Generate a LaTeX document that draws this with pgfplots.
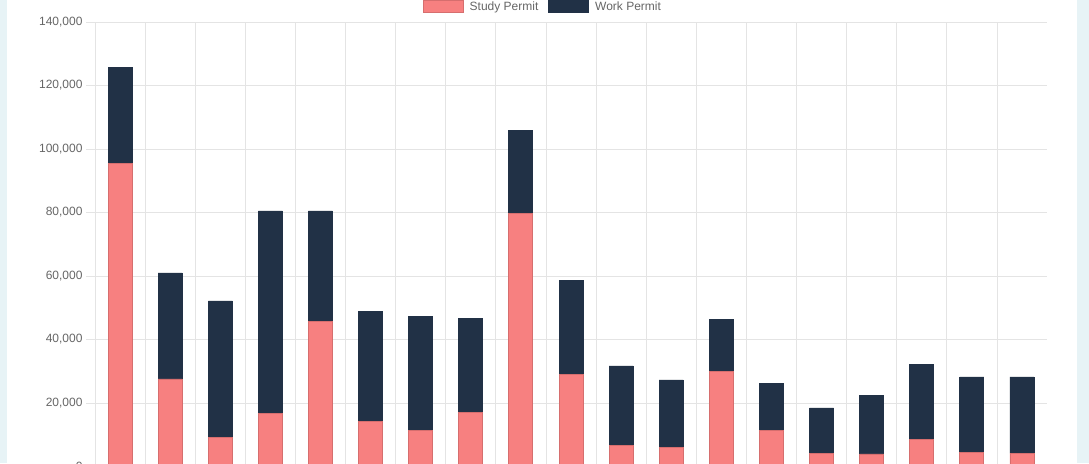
\documentclass[border=0pt]{standalone}
\usepackage{pgfplots}
\pgfplotsset{compat=1.18}
\usepackage{fontspec}
\setmainfont{Liberation Sans}
\definecolor{studyfill}{RGB}{247,128,128}
\definecolor{studyedge}{RGB}{214,110,110}
\definecolor{workfill}{RGB}{33,49,70}
\definecolor{workedge}{RGB}{33,49,70}
\definecolor{gridc}{RGB}{228,228,228}
\definecolor{txt}{RGB}{102,102,102}
\definecolor{side}{RGB}{231,243,246}
\begin{document}
\begin{tikzpicture}
\useasboundingbox (-95pt,3.5pt) rectangle (994pt,466.5pt);
\clip (-95pt,3.5pt) rectangle (994pt,466.5pt);
\fill[white] (-95pt,3.5pt) rectangle (994pt,466.5pt);
\fill[side] (-95pt,3.5pt) rectangle (-88pt,466.5pt);
\fill[side] (982pt,3.5pt) rectangle (994pt,466.5pt);
\begin{axis}[
  at={(0pt,0pt)}, anchor=south west,
  scale only axis,
  width=952pt, height=444.5pt,
  ybar stacked, bar width=24pt,
  xmin=-0.5, xmax=18.5,
  ymin=0, ymax=140000,
  ytick={0,20000,...,140000},
  xtick={-0.5,0.5,...,17.5},
  xticklabels={},
  xtick pos=bottom, ytick pos=left,
  xmajorgrids, ymajorgrids,
  grid style={gridc, line width=0.8pt},
  axis line style={draw=none},
  tick align=outside,
  major tick length=9pt,
  tick style={gridc, line width=0.8pt},
  scaled y ticks=false,
  /pgf/number format/assume math mode=true,
  yticklabel={\pgfmathprintnumber[fixed,precision=0,1000 sep={,}]{\tick}},
  yticklabel style={font=\fontsize{12}{14}\selectfont, text=txt},
  legend style={draw=none, fill=none, at={(0.4705,1)}, anchor=center, yshift=15.5pt,
    font=\fontsize{12}{14}\selectfont, text=txt,
    legend columns=2,
    /tikz/every odd column/.append style={column sep=4pt},
    /tikz/every even column/.append style={column sep=8pt}},
  legend image code/.code={\draw[#1] (0pt,-6pt) rectangle (40pt,6pt);},
]
\addplot[fill=studyfill, draw=studyedge, line width=0.8pt] coordinates {
(0,95500) (1,27560) (2,9290) (3,16760) (4,45740) (5,14110) (6,11300) (7,17100) (8,79800) (9,28900)
(10,6500) (11,5950) (12,30000) (13,11280) (14,4160) (15,3940) (16,8570) (17,4470) (18,4160)};
\addlegendentry{Study Permit}
\addplot[fill=workfill, draw=workedge, line width=0.8pt] coordinates {
(0,30100) (1,33390) (2,42840) (3,63720) (4,34740) (5,34780) (6,35920) (7,29500) (8,26100) (9,29600)
(10,25160) (11,21300) (12,16370) (13,14800) (14,14270) (15,18360) (16,23620) (17,23720) (18,24030)};
\addlegendentry{Work Permit}
\end{axis}
\end{tikzpicture}
\end{document}
